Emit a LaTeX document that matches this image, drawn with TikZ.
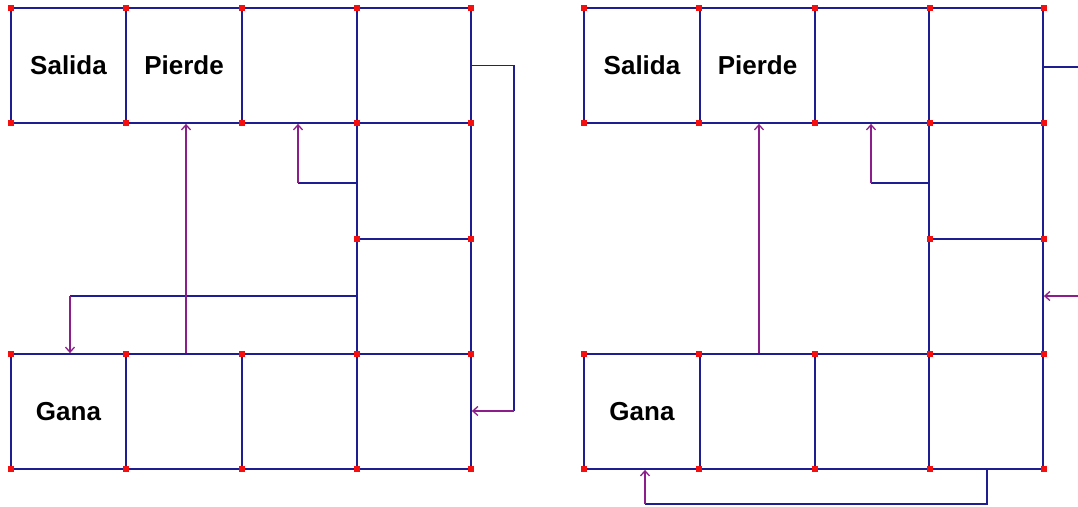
\documentclass[tikz,border=0pt]{standalone}
\usepackage{fontspec}
\setmainfont{Liberation Sans}
\usetikzlibrary{arrows.meta}
\definecolor{gridblue}{RGB}{30,30,145}
\definecolor{linkpurple}{RGB}{140,30,140}
\definecolor{dotred}{RGB}{245,15,15}
\begin{document}
\begin{tikzpicture}[x=1pt,y=-1pt,
  cell/.style={draw=gridblue, line width=1.8pt, inner sep=0pt, font=\fontsize{26}{30}\selectfont\bfseries},
  bluelink/.style={draw=gridblue, line width=1.8pt},
  purplelink/.style={draw=linkpurple, line width=1.6pt, -{Straight Barb[length=5pt,width=9pt,line width=1.3pt]}},
  dot/.style={fill=dotred}]
\useasboundingbox (0,0) rectangle (1078,506);
% ---------- left board ----------
\node[cell, minimum width=115pt, minimum height=115pt] (Lt1) at (68.5,65.5) {Salida};
\node[cell, minimum width=116pt, minimum height=115pt] (Lt2) at (184,65.5) {Pierde};
\node[cell, minimum width=115pt, minimum height=115pt] (Lt3) at (299.5,65.5) {};
\node[cell, minimum width=114pt, minimum height=115pt] (Lt4) at (414,65.5) {};
\node[cell, minimum width=114pt, minimum height=116pt] (Lr2) at (414,181) {};
\node[cell, minimum width=114pt, minimum height=115pt] (Lr3) at (414,296.5) {};
\node[cell, minimum width=115pt, minimum height=115pt] (Lb1) at (68.5,411.5) {Gana};
\node[cell, minimum width=116pt, minimum height=115pt] (Lb2) at (184,411.5) {};
\node[cell, minimum width=115pt, minimum height=115pt] (Lb3) at (299.5,411.5) {};
\node[cell, minimum width=114pt, minimum height=115pt] (Lb4) at (414,411.5) {};
% left connectors
\draw[bluelink] (Lr2.west |- 0,183) -- (298,183) coordinate (La);
\draw[purplelink] (La) -- (La |- Lt3.south);
\draw[bluelink] (Lr3.west |- 0,296) -- (70,296) coordinate (Lc);
\draw[purplelink] (Lc) -- (Lc |- Lb1.north);
\draw[purplelink] (Lb2.north -| 186,0) -- (Lt2.south -| 186,0);
\draw[bluelink] (Lt4.east) -- (514,65.5) -- (514,411) coordinate (Ld);
\draw[purplelink] (Ld) -- (Ld -| Lb4.east);
% ---------- right board ----------
\node[cell, minimum width=116pt, minimum height=115pt] (Rt1) at (642,65.5) {Salida};
\node[cell, minimum width=115pt, minimum height=115pt] (Rt2) at (757.5,65.5) {Pierde};
\node[cell, minimum width=114pt, minimum height=115pt] (Rt3) at (872,65.5) {};
\node[cell, minimum width=114pt, minimum height=115pt] (Rt4) at (986,65.5) {};
\node[cell, minimum width=114pt, minimum height=116pt] (Rr2) at (986,181) {};
\node[cell, minimum width=114pt, minimum height=115pt] (Rr3) at (986,296.5) {};
\node[cell, minimum width=116pt, minimum height=115pt] (Rb1) at (642,411.5) {Gana};
\node[cell, minimum width=115pt, minimum height=115pt] (Rb2) at (757.5,411.5) {};
\node[cell, minimum width=114pt, minimum height=115pt] (Rb3) at (872,411.5) {};
\node[cell, minimum width=114pt, minimum height=115pt] (Rb4) at (986,411.5) {};
\coordinate (Rout) at (1078,67);
\coordinate (Rin) at (1078,296);
% right connectors
\draw[bluelink] (Rr2.west |- 0,183) -- (871,183) coordinate (Ra);
\draw[purplelink] (Ra) -- (Ra |- Rt3.south);
\draw[purplelink] (Rb2.north -| 759,0) -- (Rt2.south -| 759,0);
\draw[bluelink] (Rt4.east |- Rout) -- (Rout);
\draw[purplelink] (Rin) -- (Rin -| Rr3.east);
\draw[bluelink] (Rb4.south -| 987,0) -- (987,504) -- (645,504) coordinate (Rd);
\draw[purplelink] (Rd) -- (Rd |- Rb1.south);
% ---------- red corner dots ----------
\foreach \dx in {0,573}{
  \foreach \x in {11,126,242,357,471}{
    \foreach \y in {8,123,354,469}{
      \fill[dot] (\x+\dx-3,\y-3) rectangle ++(6,6);
    }
  }
  \foreach \x in {357,471}{
    \fill[dot] (\x+\dx-3,239-3) rectangle ++(6,6);
  }
}
\end{tikzpicture}
\end{document}
